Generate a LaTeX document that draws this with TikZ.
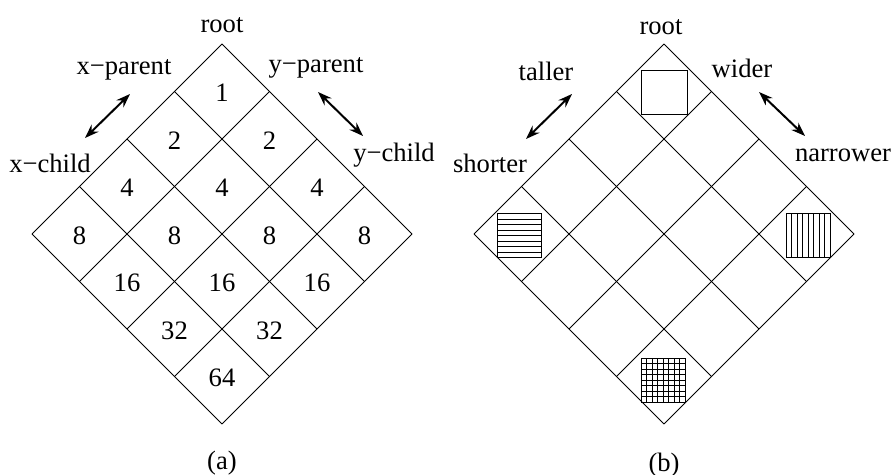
\documentclass[tikz,border=0pt]{standalone}
\usepackage{fontspec}
\setmainfont{Liberation Serif}
\usetikzlibrary{arrows.meta}

\begin{document}
\begin{tikzpicture}[
                        x=0.5pt,
                        y=-0.5pt,
                        font=\fontsize{13.3}{16}\selectfont,
                        line width=0.5pt
                    ]
                    \tikzstyle{cell}=[inner sep=0pt]
                    \tikzstyle{dir}=[{Stealth[length=7pt,width=5pt]}-{Stealth[length=7pt,width=5pt]},line width=1pt]
                    \useasboundingbox (0,0) rectangle (892,475);

                    % (a) cost of each level
                    \foreach \k in {0,...,4} {
                        \draw (222-47.5*\k,44+47.5*\k) -- ++(190,190);
                        \draw (222+47.5*\k,44+47.5*\k) -- ++(-190,190);
                    }
                    \foreach \i in {0,...,3} {
                        \foreach \j in {0,...,3} {
                            \pgfmathtruncatemacro\val{2^(\i+\j)}
                            \node[cell] (a\i\j) at (222-47.5*\i+47.5*\j,93+47.5*\i+47.5*\j) {\val};
                        }
                    }

                    \node (rootA)    at (222,25)  {root};
                    \node (xparent)  at (124,70)  {x−parent};
                    \node (yparent)  at (316,68)  {y−parent};
                    \node (xchild)   at (50,163)  {x−child};
                    \node (ychild)   at (394,155) {y−child};
                    \node (capA)     at (222,463) {(a)};

                    \coordinate (xa1) at (85,138);
                    \coordinate (xa2) at (130,94);
                    \coordinate (ya1) at (318,92);
                    \coordinate (ya2) at (363,136);
                    \draw[dir] (xa1) -- (xa2);
                    \draw[dir] (ya1) -- (ya2);

                    % (b) shape of each block
                    \foreach \k in {0,...,4} {
                        \draw (664-47.5*\k,44+47.5*\k) -- ++(190,190);
                        \draw (664+47.5*\k,44+47.5*\k) -- ++(-190,190);
                    }

                    \node (rootB)    at (661,27)  {root};
                    \node (taller)   at (546,71)  {taller};
                    \node (wider)    at (742,68)  {wider};
                    \node (shorter)  at (490,163) {shorter};
                    \node (narrower) at (843,155) {narrower};
                    \node (capB)     at (664,465) {(b)};

                    \coordinate (tb1) at (526,139);
                    \coordinate (tb2) at (572,94);
                    \coordinate (wb1) at (759,92);
                    \coordinate (wb2) at (805,136);
                    \draw[dir] (tb1) -- (tb2);
                    \draw[dir] (wb1) -- (wb2);

                    % blocks
                    \draw (641,71) rectangle (687,115);
                    \draw (497,214) rectangle (541,258);
                    \foreach \t in {1,...,7}
                        \draw (497,214+5.5*\t) -- (541,214+5.5*\t);
                    \draw (786,214) rectangle (830,258);
                    \foreach \t in {1,...,7}
                        \draw (786+5.5*\t,214) -- (786+5.5*\t,258);
                    \draw (641,358) rectangle (685,402);
                    \foreach \t in {1,...,7} {
                        \draw (641,358+5.5*\t) -- (685,358+5.5*\t);
                        \draw (641+5.5*\t,358) -- (641+5.5*\t,402);
                    }
                \end{tikzpicture}
\end{document}
